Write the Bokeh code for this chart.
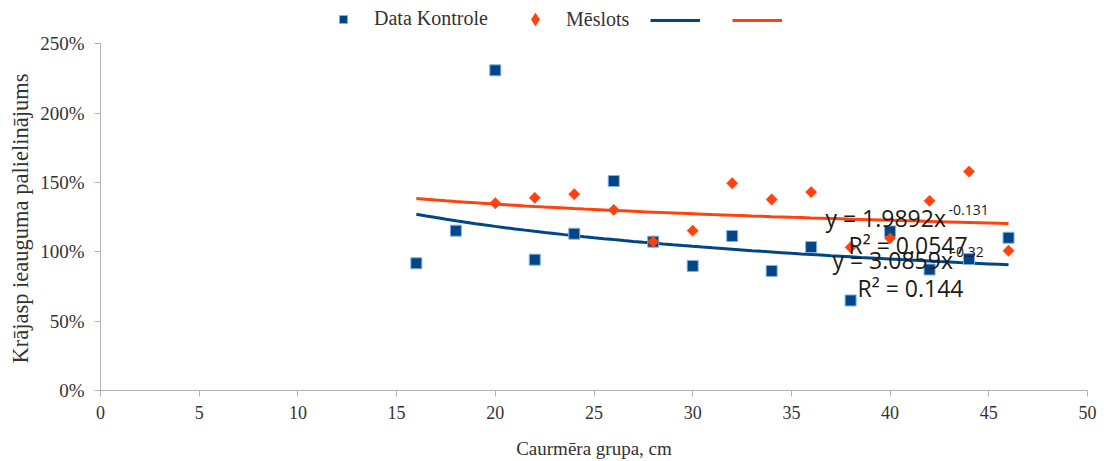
import numpy as np
from bokeh.plotting import figure
from bokeh.models import (Range1d, NumeralTickFormatter, Legend, LegendItem,
                          SingleIntervalTicker, Title)
from bokeh.core.properties import value
from bokeh.embed import file_html
from bokeh.resources import INLINE

# ---- data ----
kontrole_x = [16, 18, 20, 22, 24, 26, 28, 30, 32, 34, 36, 38, 40, 42, 44, 46]
kontrole_y = [0.917, 1.152, 2.308, 0.943, 1.130, 1.510, 1.073, 0.898,
              1.114, 0.862, 1.034, 0.649, 1.147, 0.872, 0.948, 1.101]
meslots_x = [20, 22, 24, 26, 28, 30, 32, 34, 36, 38, 40, 42, 44, 46]
meslots_y = [1.350, 1.389, 1.415, 1.302, 1.073, 1.152, 1.494, 1.377,
             1.430, 1.032, 1.097, 1.367, 1.578, 1.008]

# power trend lines y = a * x^b, coefficients as printed on the chart
kontrole_fit = (3.0859, -0.32)
meslots_fit = (1.9892, -0.131)
trend_range = (16, 46)

series_names = ["Data Kontrole", "Mēslots"]
x_title = "Caurmēra grupa, cm"
y_title = "Krājasp ieauguma palielinājums"

BLUE = "#004586"
ORANGE = "#FF420E"
TXT = "#333333"
SERIF = "Liberation Serif"

# layout constants (screen px)
W, H = 1100, 461
LEFT, RIGHT = 100, 1087
BOTTOM = 391          # expected frame bottom
TOP_250 = 43.3        # where 250% sits
Y_MAX_AX = 2.5
Y_END = Y_MAX_AX * BOTTOM / (BOTTOM - TOP_250)

p = figure(width=W, height=H, output_backend="svg", toolbar_location=None,
           x_range=Range1d(0, 50), y_range=Range1d(0, Y_END),
           min_border_left=LEFT, min_border_right=W - RIGHT, min_border_top=0,
           min_border_bottom=H - BOTTOM)
p.outline_line_color = None
p.xgrid.visible = False
p.ygrid.visible = False

tx = np.linspace(trend_range[0], trend_range[1], 61)
l_k = p.line(tx, kontrole_fit[0] * tx ** kontrole_fit[1], line_color=BLUE, line_width=3)
l_m = p.line(tx, meslots_fit[0] * tx ** meslots_fit[1], line_color=ORANGE, line_width=3)

r_k = p.scatter(kontrole_x, kontrole_y, marker="square", size=11,
                fill_color=BLUE, line_color="#7fb2e5", line_width=1)
# diamond renderer (used for the legend swatch; hidden under the rotated squares)
r_m_leg = p.scatter(meslots_x, meslots_y, marker="diamond", size=10,
                    fill_color=ORANGE, line_color=ORANGE, line_width=0.5)
r_m = p.scatter(meslots_x, meslots_y, marker="square", size=8, angle=np.pi / 4,
                fill_color=ORANGE, line_color=ORANGE, line_width=0.5)

# equation labels (placed by screen position, converted to data units)
def px_x(px):
    return (px - LEFT) * 50 / (RIGHT - LEFT)

def px_y(py):
    return (BOTTOM - py) * Y_END / BOTTOM

eq_font = value("Open Sans")
big = [("y = 1.9892x", 825, 217.7), ("R\u00b2 = 0.0547", 848, 245),
       ("y = 3.0859x", 832, 260), ("R\u00b2 = 0.144", 857, 288.3)]
sup = [("-0.131", 948, 210), ("-0.32", 951, 251.7)]
p.text(x=[px_x(b[1]) for b in big], y=[px_y(b[2]) for b in big],
       text=[b[0] for b in big], text_font=eq_font, text_font_size="23px",
       text_color="#1a1a1a", text_align="left", text_baseline="alphabetic")
p.text(x=[px_x(s[1]) for s in sup], y=[px_y(s[2]) for s in sup],
       text=[s[0] for s in sup], text_font=eq_font, text_font_size="14px",
       text_color="#1a1a1a", text_align="left", text_baseline="alphabetic")

# axes
for ax in (p.xaxis, p.yaxis):
    ax.axis_line_color = "#b3b3b3"
    ax.major_tick_line_color = "#b3b3b3"
    ax.major_tick_in = 0
    ax.major_tick_out = 6
    ax.minor_tick_line_color = None
    ax.major_label_text_font = SERIF
    ax.major_label_text_color = TXT
    ax.axis_label_text_font = SERIF
    ax.axis_label_text_font_style = "normal"
    ax.axis_label_text_color = TXT

p.xaxis.major_label_text_font_size = "18px"
p.yaxis.major_label_text_font_size = "19px"
p.xaxis.axis_label_text_font_size = "19px"
p.xaxis.ticker = SingleIntervalTicker(interval=5)
p.yaxis.ticker = SingleIntervalTicker(interval=0.5)
p.yaxis.bounds = (0, Y_MAX_AX)
p.yaxis.formatter = NumeralTickFormatter(format="0%")
p.xaxis.axis_label = x_title
p.xaxis.major_label_standoff = 9
p.xaxis.axis_label_standoff = 16
p.yaxis.major_label_standoff = 10

# y axis title, centred on the 0..250% span rather than on the whole frame
ytitle = Title(text=y_title, align="left", offset=27, text_font=SERIF,
               text_font_size="22.5px", text_font_style="normal",
               text_color=TXT, standoff=10)
p.add_layout(ytitle, "left")

# legend: one small legend per entry so each sits where the reference has it
def make_legend(label, rend, loc, gh=20):
    return Legend(items=[LegendItem(label=label, renderers=[rend])],
                  orientation="horizontal", glyph_width=50, glyph_height=gh,
                  label_width=0, label_standoff=6, padding=0, margin=0,
                  border_line_color=None, background_fill_alpha=0,
                  label_text_font=SERIF, label_text_font_size="20px",
                  label_text_color=TXT, location=loc)

p.add_layout(make_legend(series_names[0], r_k, (218, 360)), "center")
p.add_layout(make_legend(series_names[1], r_m_leg, (410, 355), gh=32), "center")
p.add_layout(make_legend(" ", l_k, (550, 360)), "center")
p.add_layout(make_legend(" ", l_m, (632, 360)), "center")

open("out.html", "w").write(file_html(p, INLINE))
